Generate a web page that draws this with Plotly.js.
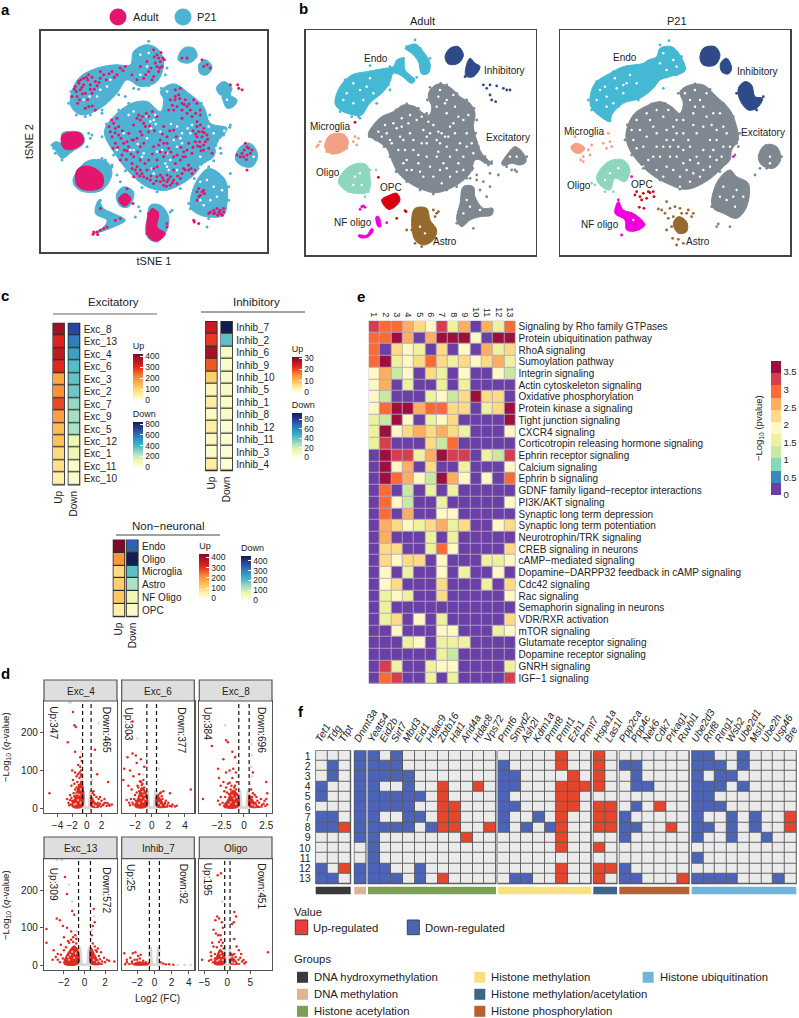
<!DOCTYPE html>
<html><head><meta charset="utf-8">
<script src="https://cdn.plot.ly/plotly-3.0.1.min.js"></script>
<style>html,body{margin:0;padding:0;background:#fff}#c{width:799px;height:1018px}</style></head>
<body><div id="c"></div>
<script>
// ---------- panel a (t-SNE) ----------
const aBlueShapes=[
[[210,295],[235,235],[290,205],[345,195],[390,195],[400,155],[440,135],[475,150],[490,190],[470,245],[420,260],[380,240],[350,280],[300,325],[245,345],[215,325]],
[[533,180],[550,145],[580,145],[590,170],[565,190]],
[[595,195],[615,180],[635,200],[620,225],[600,222]],
[[648,265],[670,245],[695,265],[690,285],[710,300],[700,320],[680,325],[665,295]],
[[312,395],[345,345],[395,310],[440,305],[480,335],[490,300],[480,275],[520,252],[565,280],[610,320],[630,370],[680,385],[650,430],[640,470],[610,490],[575,530],[500,570],[440,560],[390,520],[350,470]],
[[705,475],[720,440],[750,430],[772,465],[755,500],[720,495]],
[[570,600],[590,540],[625,505],[675,540],[680,610],[670,645],[620,650],[590,640],[572,625]],
[[155,435],[165,425],[190,430],[185,400],[245,400],[250,430],[215,455],[185,475],[165,450]],
[[218,540],[240,500],[270,480],[320,485],[335,520],[305,570],[250,575],[225,560]],
[[348,585],[370,560],[400,575],[385,620],[360,618]],
[[285,640],[295,600],[310,625],[340,640],[375,660],[340,680],[315,690],[280,700],[310,680],[320,660]],
[[440,660],[450,615],[480,615],[505,650],[495,700],[470,725],[445,715],[435,690]]];
const aPinkShapes=[
[[183,410],[195,400],[240,400],[250,425],[215,448],[190,445]],
[[230,510],[260,498],[305,522],[305,560],[260,570],[230,555]],
[[355,595],[375,580],[392,595],[375,618],[360,610]],
[[440,660],[455,625],[475,640],[470,680],[495,700],[470,722],[445,710]]];
const aPinkDots=[[225,260],[235,245],[250,235],[265,225],[240,270],[255,280],[230,290],[270,255],[285,245],[300,235],[310,225],[335,215],[360,205],[375,200],[265,320],[255,325],[285,330],[215,290],[250,255],[275,280],[470,165],[480,185],[485,200],[475,215],[460,150],[440,185],[420,200],[430,235],[395,225],[410,240],[455,240],[560,175],[545,175],[620,195],[630,205],[610,200],[605,180],[715,265],[725,270],[712,255],[690,255],
[340,370],[350,355],[330,395],[355,405],[370,430],[345,430],[365,465],[385,440],[400,420],[420,395],[430,370],[445,350],[470,350],[415,345],[400,375],[385,400],[430,430],[460,440],[480,420],[500,410],[520,390],[490,380],[505,330],[525,290],[540,265],[545,310],[560,320],[580,300],[600,330],[575,350],[545,355],[590,365],[605,395],[620,405],[590,410],[600,440],[565,430],[550,455],[530,465],[505,445],[490,470],[470,500],[445,480],[420,480],[395,505],[410,520],[430,530],[450,540],[470,530],[490,540],[510,530],[530,550],[545,520],[565,510],[575,520],[510,555],[490,555],[420,510],[410,500],[520,470],[555,470],[610,450],[625,445],[635,460],[470,480],[400,470],[520,510],[735,430],[745,445],[725,460],[710,465],[740,465],[755,450],[740,510],[595,565],[610,570],[600,585],[590,600],[640,630],[655,635],[670,625],[625,640],[580,660],[595,670],[280,695],[300,690],[320,680],[345,660],[360,655],[300,625],[290,695],[310,685],
[235,250],[245,262],[228,275],[262,240],[275,232],[290,258],[238,300],[262,300],[300,215],[318,240],[350,225],[465,190],[475,175],[488,175],[478,205],[460,230],[445,215],[345,385],[355,380],[335,410],[362,415],[352,442],[372,450],[360,480],[395,490],[405,510],[425,520],[440,535],[460,550],[480,545],[500,545],[520,540],[540,535],[555,510],[565,495],[500,525],[480,525],[590,380],[600,375],[610,385],[595,395],[605,410],[615,425],[585,425],[598,425],[610,435],[520,330],[530,320],[545,330],[560,340],[510,300],[525,270],[535,285],[555,300],[590,310],[600,345],[410,355],[420,360],[435,380],[445,395],[425,405],[410,415],[490,430],[475,435],[500,430],[480,455],[540,480],[525,490],[560,450],[575,460],[420,440],[395,420],[740,440],[732,450],[720,470],[730,470],[605,575],[590,575],[595,590],[650,625],[660,630],[630,635],[670,635],[660,640],[640,640],[582,665],[455,640],[445,640],[470,710],[480,710],[460,712],[500,670],
[242,240],[258,232],[222,268],[246,282],[270,268],[282,268],[232,310],[276,318],[296,248],[326,222],[342,232],[368,212],[482,158],[492,180],[470,200],[462,172],[452,205],[436,225],[334,360],[344,398],[326,380],[366,392],[338,445],[380,425],[392,462],[378,478],[400,530],[418,528],[452,528],[468,542],[486,532],[498,558],[516,548],[532,528],[550,505],[572,505],[584,510],[504,538],[460,505],[440,510],[434,490],[578,392],[586,402],[612,398],[622,418],[592,438],[602,452],[578,442],[524,300],[516,316],[552,314],[566,312],[538,296],[570,330],[586,340],[456,335],[438,340],[426,350],[448,378],[462,392],[486,402],[508,392],[528,410],[512,456],[542,442],[548,470],[496,458],[456,462],[412,456],[380,452],[750,460],[738,478],[612,580],[644,638],[666,645],[652,645],[278,702],[292,703],[362,600],[380,566],[398,610],[470,635],[500,680],[440,700]];
const aBlueDots=[[265,400],[270,415],[260,440],[275,405],[155,435],[185,480],[335,500],[350,525],[445,125],[360,545],[375,290],[385,310],[690,520],[415,620],[420,632],[510,635],[515,630],[620,680],[300,600],[405,650],[480,660],[490,670],[455,660],[270,530],[250,545],[285,550],[265,515],[245,520],[465,700],[455,690],[205,310],[212,275],[228,345],[255,350],[400,265],[415,268],[445,258],[495,225],[650,395],[670,405],[688,382],[660,445],[625,500],[685,560],[685,600],[565,610],[570,625],[625,655],[315,480],[335,495],[305,475],[165,460],[160,445],[185,470],[305,330],[270,345],[355,285],[500,205],[483,265],[305,340],[603,310],[628,345],[690,375],[662,460],[640,482],[582,535],[540,565],[470,575],[425,562],[375,512],[340,465],[305,410],[318,372],[355,330]];
const aHoles=[[440,350],[460,360],[465,345],[450,365],[440,415],[470,455],[485,450],[500,460],[510,480],[530,440],[545,430],[530,380],[545,400],[570,400],[400,450],[430,460],[460,520],[370,400],[350,450],[520,420],[495,490],[500,500],[250,300],[290,290],[320,260],[440,200],[420,225],[600,600],[640,560],[620,540],[700,470],[600,470],[640,400],[660,420],[625,380],[575,375],[480,310],[500,275],[385,345],[400,335],[452,385],[466,372],[480,395],[412,432],[425,470],[540,415],[512,372],[562,385],[390,450],[455,505],[505,510],[530,510],[600,500],[648,445],[672,392],[268,290],[300,270],[330,240],[420,165],[445,160],[660,290],[680,300],[610,615],[650,590],[665,570],[630,600],[600,545],[760,470]];
const bAdult={
 Endo:[[[135,310],[150,260],[185,225],[230,215],[285,205],[310,200],[320,180],[340,175],[345,210],[375,240],[365,250],[330,225],[310,220],[300,245],[280,275],[250,300],[235,315],[215,345],[190,345],[150,330]],[[345,145],[375,132],[400,155],[420,190],[415,220],[395,222],[385,185],[365,160]]],
 Inhibitory:[[[465,170],[480,145],[505,140],[520,165],[505,190],[475,192]],[[527,205],[540,175],[555,190],[570,200],[550,230],[528,228]]],
 Excitatory:[[[235,405],[250,375],[275,350],[310,335],[340,315],[375,320],[400,340],[418,345],[425,320],[415,295],[420,270],[445,252],[480,262],[510,290],[540,310],[555,340],[550,380],[560,420],[575,460],[600,485],[608,492],[585,490],[570,480],[555,480],[540,520],[500,555],[440,578],[400,570],[360,550],[325,520],[305,480],[290,445],[265,425]],[[635,490],[650,465],[675,440],[700,460],[708,485],[690,495],[665,490],[640,497]],[[500,660],[510,610],[520,560],[550,560],[555,590],[580,625],[608,625],[605,645],[570,650],[540,660],[515,680]]],
 Microglia:[[[105,430],[120,405],[160,402],[175,425],[165,450],[125,462],[105,445]]],
 Oligo:[[[145,545],[170,505],[205,490],[230,495],[240,530],[235,575],[195,580],[165,570]]],
 OPC:[[[275,600],[300,585],[320,580],[330,600],[315,620],[295,628]]],
 NFoligo:[[[205,705],[230,705],[245,685],[250,692],[232,712],[208,712]],[[258,650],[266,650],[272,680],[264,680]]],
 Astro:[[[365,660],[375,625],[410,625],[420,660],[440,690],[430,720],[400,735],[375,720]]]};
const bAdultDots={
 Endo:[[375,120],[300,200],[340,175],[320,190],[210,355],[300,270],[260,310],[240,197],[330,180],[350,140],[390,145],[420,175],[140,300],[145,275],[165,240],[360,245],[380,232],[295,255],[205,350],[185,350],[150,335]],
 Inhibitory:[[525,230],[580,255],[600,255],[620,258],[640,265],[650,270],[660,270],[600,285],[605,300],[617,305],[590,265]],
 Excitatory:[[545,510],[560,525],[580,545],[600,560],[590,590],[560,540],[600,520],[570,570],[540,535],[625,525],[680,515],[665,510],[550,685],[240,400],[248,385],[262,368],[285,352],[318,330],[350,312],[385,325],[410,340],[412,300],[420,262],[452,250],[470,255],[500,280],[530,300],[552,325],[560,360],[557,400],[565,440],[585,470],[605,485],[595,495],[548,505],[530,535],[500,560],[470,570],[430,582],[390,570],[350,545],[318,515],[300,470],[282,440],[258,420],[238,410],[710,470],[650,500],[675,510],[525,620],[500,670],[515,675]],
 Microglia:[[80,440],[90,425],[85,435],[195,410],[205,415],[190,425],[200,435],[110,455],[170,445]],
 Oligo:[[225,590],[258,510],[235,575],[150,550],[175,575],[240,510]],
 OPC:[[265,532],[348,635],[320,655],[195,367],[345,632]],
 NFoligo:[[210,628],[220,618],[215,620],[225,622],[290,668],[270,675],[262,660]],
 Astro:[[430,630],[440,640],[435,650],[350,690],[445,635],[425,675],[375,730],[395,740],[365,690]]};
const bP21={
 Endo:[[[900,295],[915,250],[960,220],[1000,200],[1060,190],[1075,180],[1100,170],[1110,145],[1145,140],[1170,165],[1185,212],[1140,230],[1110,240],[1090,265],[1050,295],[1000,310],[965,345],[960,365],[925,345],[905,325]]],
 Inhibitory:[[[1230,175],[1240,145],[1275,140],[1290,165],[1275,195],[1240,195]],[[1292,190],[1310,175],[1325,205],[1315,222],[1295,215]],[[1345,265],[1365,245],[1385,255],[1395,290],[1418,295],[1400,325],[1375,330],[1350,300]]],
 Excitatory:[[[1008,400],[1030,345],[1065,320],[1110,305],[1145,320],[1170,340],[1180,310],[1170,275],[1200,255],[1240,255],[1280,290],[1320,330],[1340,380],[1345,420],[1325,450],[1320,480],[1300,500],[1255,540],[1190,568],[1130,550],[1080,520],[1040,480],[1015,440]],[[1405,470],[1425,435],[1460,440],[1472,480],[1450,505],[1415,495]],[[1265,600],[1285,540],[1320,510],[1340,530],[1375,550],[1370,620],[1340,655],[1300,640],[1270,625]]],
 Microglia:[[[843,440],[860,430],[885,445],[870,460],[850,455]]],
 Oligo:[[[920,530],[955,485],[1000,480],[1020,510],[1005,545],[975,535],[960,570],[930,555]]],
 OPC:[],
 NFoligo:[[[975,640],[985,605],[1000,630],[1030,640],[1060,665],[1065,675],[1040,692],[1010,690],[1005,660]]],
 Astro:[[[1150,670],[1165,650],[1190,665],[1190,695],[1165,700]]]};
const bP21Dots={
 Endo:[[1137,122],[1120,265],[960,362],[1045,300],[1060,240],[905,330],[895,300],[920,245],[1175,170],[1185,205],[1110,135],[1160,225],[1095,180],[970,215],[985,320]],
 Inhibitory:[[1400,330],[1420,290],[1340,280]],
 Excitatory:[[1285,672],[1280,680],[1395,525],[1320,680],[1340,430],[1345,440],[1005,420],[1012,375],[1045,335],[1085,312],[1125,310],[1165,280],[1215,252],[1260,268],[1300,310],[1330,350],[1350,400],[1335,465],[1290,515],[1230,550],[1170,568],[1110,540],[1060,505],[1025,465],[1475,470],[1410,505],[1430,505],[1375,580],[1265,620]],
 Microglia:[[880,485],[905,435],[940,430],[955,400],[965,440],[900,465],[895,450],[880,470],[960,425],[950,445],[855,410],[872,480]],
 Oligo:[[970,575],[945,575],[915,555],[905,550]],
 OPC:[[1040,575],[1050,590],[1060,580],[1070,595],[1080,578],[1090,575],[1092,590],[1055,600],[1048,622],[1062,625],[1035,585],[1075,575]],
 NFoligo:[[985,600],[985,610],[995,705],[1330,470],[1025,530]],
 Astro:[[1105,627],[1130,605],[1140,625],[1155,620],[1170,625],[1125,640],[1135,655],[1150,650],[1190,640],[1210,640],[1205,650],[1195,630],[1130,690],[1145,680],[1165,718],[1160,735],[1180,730],[1148,715],[1175,640],[1115,630]]};
const adultHoles=[[440,420],[450,430],[430,375],[420,400],[400,390],[410,430],[395,430],[470,440],[460,490],[480,470],[470,505],[450,510],[360,400],[340,420],[325,450],[370,450],[350,480],[385,490],[410,470],[500,450],[495,400],[480,380],[470,340],[465,310],[495,320],[520,360],[530,400],[530,440],[505,490],[320,385],[290,400],[275,410],[440,470],[430,530],[400,530],[170,280],[190,310],[210,270],[230,260],[250,280],[190,250],[220,300],[160,300],[240,235],[455,400],[465,410],[445,395],
[380,360],[355,370],[335,380],[310,370],[300,420],[330,410],[345,450],[365,510],[390,515],[420,500],[445,455],[475,410],[490,370],[505,350],[470,300],[445,290],[440,320],[510,430],[520,470],[480,530],[455,550],[350,510],[340,490],[305,430],[265,395],[395,350],[415,365],[370,420],[385,465],[500,515],[520,510],[535,345],[450,270],[490,285],[545,430],[550,460],[335,355],[360,345],[285,375],[410,410],[530,600],[540,620],[570,630],[520,640],[660,470],[680,470],[195,530],[190,555],[210,520],[215,555],[390,680],[405,700]];
const p21Holes=[[1100,400],[1120,440],[1150,420],[1180,400],[1200,440],[1220,400],[1240,450],[1260,420],[1280,390],[1250,350],[1210,340],[1200,300],[1230,300],[1270,340],[1300,380],[1300,440],[1280,480],[1240,510],[1200,480],[1160,470],[1130,500],[1090,470],[1060,440],[1050,390],[1080,360],[1120,350],[1150,380],[1180,450],[1210,520],[1170,530],[1100,510],[1030,420],[1260,470],[1220,470],[1140,470],[1180,360],[950,290],[980,265],[1010,250],[1000,280],[950,320],[1040,250],[1110,190],[1130,210],[1150,180],[930,270],[970,310],[1330,590],[1310,600],[1340,570],[1440,470],[1300,560],
[1025,390],[1040,360],[1070,340],[1100,330],[1135,330],[1160,360],[1130,390],[1090,380],[1070,410],[1040,445],[1075,480],[1110,470],[1100,440],[1130,420],[1165,440],[1195,420],[1210,375],[1240,380],[1265,375],[1290,340],[1310,400],[1320,440],[1295,470],[1260,500],[1225,490],[1190,510],[1150,510],[1120,530],[1170,560],[1200,545],[1230,530],[1185,280],[1215,270],[1250,280],[1240,320],[1215,320],[1180,490],[1060,500],[1140,440],[1280,420],[1270,450],[1160,400],[975,235],[1020,225],[920,300],[945,260],[1000,255],[1120,160],[1160,200],[960,520],[985,505],[945,540],[1030,660],[1335,620],[1360,590],[1290,590],[1440,490]];
const clusterNames=['Endo','Inhibitory','Excitatory','Microglia','Oligo','OPC','NFoligo','Astro'];
const clusterColours={Endo:'#45B8D4',Inhibitory:'#2F4A88',Excitatory:'#7F8890',Microglia:'#F3A184',Oligo:'#8ED7BE',OPC:'#D8000F',NFoligo:'#F000DC',Astro:'#96692F'};
// ---------- panel c ----------
const excNames=['Exc_8','Exc_13','Exc_4','Exc_6','Exc_3','Exc_2','Exc_7','Exc_9','Exc_5','Exc_12','Exc_1','Exc_11','Exc_10'];
const excUp=[384,309,347,303,170,200,270,180,140,130,90,80,50];
const excDown=[696,572,465,377,360,340,280,260,250,130,120,40,30];
const inhNames=['Inhib_7','Inhib_2','Inhib_6','Inhib_9','Inhib_10','Inhib_5','Inhib_1','Inhib_8','Inhib_12','Inhib_11','Inhib_3','Inhib_4'];
const inhUp=[25,21,28,19,8,2,4,1.5,4,2,1,4];
const inhDown=[92,40,7,6,6,7,6,6,3,3,3,2];
const nonNames=['Endo','Oligo','Microglia','Astro','NF Oligo','OPC'];
const nonUp=[430,195,90,110,120,50];
const nonDown=[340,451,200,130,60,30];
// ---------- panel d ----------
const volcano=[
{name:'Exc_4',up:'Up:347',down:'Down:465',xr:[-5.84,4.11],xt:[-4,-2,0,2],
 left:[[-2,4],[-1.5,35],[-1.1,60],[-0.7,70],[-0.62,4]],right:[[0.62,4],[0.62,32],[1.1,16],[1.7,4]],
 pts:[[-1.9,255],[-1.7,220],[-1.5,215],[-2.6,175],[-1.6,150],[-0.9,135],[-0.7,125],[-1.2,115],[-0.9,110],[-2,100],[-1.6,95],[-1.2,90],[-0.8,100],[-2.1,60],[-1.9,75],[-1.7,65],[-1.4,85],[-1,80],[-1.3,70],[-0.8,70],[-2.7,25],[-2.5,15],[-2.3,35],[-2.2,10],[-2,20],[-1.8,40],[-1.6,50],[-1.5,30],[-5.1,40],[1.1,155],[2.9,70],[1.4,90],[0.8,40],[1,35],[1.3,30],[1.6,25],[2,20],[2.5,15],[3,10],[3.4,10],[2.2,8],[1.8,12],[1.5,15],[2.4,25],[2.7,6],[-1.1,62],[-1.2,50],[-1.4,42],[-1.7,32],[-1.9,16],[-2.4,8],[-1,47],[-0.75,90],[-1,95],[-0.8,85],[-1.4,55],[-2.1,28],[-2.3,22],[1.9,5],[2.3,12],[2.8,14],[1.2,12],[1.6,8],[3.1,7],[0.9,45],[1.8,30]],
 specks:[[-1.2,22],[-1,36],[-1.5,12],[-0.85,15],[-1.3,38],[-0.8,50],[-1.7,10],[0.9,9],[1.2,6]],pale:[[1.6,225],[-0.7,185],[-0.75,150],[0.7,100],[-0.65,75],[0.65,60],[0.7,75],[-2.4,280],[-2.2,280]]},
{name:'Exc_6',up:'Up:303',down:'Down:377',xr:[-3.6,5.12],xt:[-2,0,2,4],
 left:[[-2,4],[-1.6,30],[-1.2,55],[-0.65,42],[-0.62,4]],right:[[0.62,4],[0.62,35],[1.05,26],[1.6,6],[2,4]],
 pts:[[-3.4,75],[-3.3,105],[-2.9,135],[-2.3,145],[-1.9,140],[-2.6,100],[-1.8,120],[-1.3,130],[-2.2,85],[-1.5,90],[-0.9,110],[-2.8,60],[-2.4,50],[-2,35],[-2.5,25],[-2.7,15],[-1.7,60],[-1.3,70],[-1.1,65],[-0.9,55],[-1.5,45],[-1.9,20],[-2.2,10],[-2.3,230],[-2.9,195],[4.7,50],[2.2,40],[1.4,45],[0.8,35],[1,40],[1.3,25],[1.7,20],[2,15],[2.5,10],[3,7],[1.5,10],[2.2,6],[2.8,5],[-1.4,72],[-1.6,55],[-1.8,42],[-2.1,25],[-2.3,15],[-1.2,62],[-2.6,8],[-3,22],[-1,75],[1.2,32],[1.6,14],[1.9,9],[2.4,5],[1.1,42]],
 specks:[[-1.3,28],[-1,18],[-0.9,36],[-1.5,14],[-1.1,44],[-0.75,25],[0.85,14],[1.1,8]],pale:[[-0.7,110],[-0.6,130],[0.7,160],[0.9,105],[0.7,120],[-1.7,185],[-1,90],[0.75,75],[-0.7,65]]},
{name:'Exc_8',up:'Up:384',down:'Down:696',xr:[-5,3.14],xt:[-2.5,0,2.5],
 left:[[-2.3,4],[-1.8,24],[-1.3,48],[-0.7,38],[-0.62,4]],right:[[0.62,4],[0.62,36],[1.05,20],[1.7,5],[2.1,4]],
 pts:[[-3.6,165],[-2,180],[-1.8,175],[-1.3,150],[-1,135],[-2.3,130],[-2.9,105],[-4.6,25],[-2.8,80],[-2.6,60],[-2.3,70],[-2,95],[-1.6,100],[-1.2,105],[-1.3,80],[-0.9,95],[-1,60],[-1.8,65],[-2.2,45],[-2.6,30],[-2.9,20],[-2.4,15],[-2,55],[-1.5,50],[-0.8,70],[-1.2,40],[2.5,70],[1,95],[0.8,50],[1,40],[1.4,30],[1.9,25],[2.3,20],[2.6,10],[2.2,12],[1.7,15],[2.5,25],[1.2,35],[2.6,40],[-1.6,68],[-1.1,55],[-1.9,42],[-1.4,60],[-2.1,30],[-2.7,10],[-1.7,38],[-0.9,50],[1.3,14],[1.5,20],[2,9],[2.4,6],[0.9,30]],
 specks:[[-1.5,16],[-1.1,26],[-0.9,12],[-1.7,10],[-1.3,34],[-0.8,30],[0.9,10],[1.2,7]],pale:[[-2.1,220],[-0.9,140],[-0.75,120],[0.8,170],[0.9,140],[0.85,110],[0.9,85],[-0.7,85],[0.7,65]]},
{name:'Exc_13',up:'Up:309',down:'Down:572',xr:[-3.94,3.16],xt:[-2,0,2],
 left:[[-2,4],[-1.5,38],[-1,52],[-0.65,42],[-0.62,4]],right:[[0.62,4],[0.62,48],[1.05,26],[1.5,6],[1.8,4]],
 pts:[[-3.7,97],[-3.7,60],[-2.7,125],[-2.4,120],[-1.9,235],[-1.7,190],[-1.2,145],[-2.1,105],[-1.7,100],[-1,135],[-1.3,90],[-0.9,80],[-3,40],[-2.6,30],[-2.3,55],[-2,75],[-2,40],[-2.6,15],[-3.1,15],[-1.6,65],[-1.1,75],[-0.8,70],[0.9,150],[1,115],[0.8,105],[0.7,80],[1.3,45],[1.6,35],[1.9,20],[2.2,15],[2.4,12],[2.9,10],[1.7,10],[1.4,25],[1,50],[2,8],[-1.3,68],[-1.5,60],[-1.8,48],[-2.3,28],[-2.1,18],[-2.4,8],[-1.1,62],[-0.8,58],[1.2,36],[1.5,16],[0.8,58],[1.1,40],[-2.8,22]],
 specks:[[-1.4,28],[-1.6,22],[-1.2,36],[-1.5,15],[-1,20],[-0.85,32],[0.9,14],[1.2,9]],pale:[[-1.5,215],[-1.2,170],[-0.75,90],[-0.7,75],[0.9,130],[0.75,95],[0.7,70],[-2.7,280],[-2.2,280]]},
{name:'Inhib_7',up:'Up:25',down:'Down:92',xr:[-3.8,4.63],xt:[-2,0,2,4],
 left:[[-2.5,2],[-2,9],[-1.3,8],[-0.7,2]],right:[],
 pts:[[-3.5,32],[-2.5,32],[-2.2,35],[-1.9,25],[-1.6,28],[-3.2,8],[-3.2,15],[-2.8,20],[-2.6,10],[-2.3,15],[-2,15],[-1.7,18],[-1.3,12],[-1,8],[-0.7,5],[-3.4,3],[0.7,8],[1,5],[1.3,3],[1.7,3],[2.2,2],[-2.9,4],[-2.6,6]],
 specks:[],pale:[[3.5,1],[4.2,1],[2.7,1],[1.9,2],[1.4,1],[-0.62,6],[0.62,5],[-0.5,2],[0.5,2],[-3,2]]},
{name:'Oligo',up:'Up:195',down:'Down:451',xr:[-6.1,9.7],xt:[-5,0,5],
 left:[[-2.9,4],[-2.4,22],[-1.6,42],[-0.75,30],[-0.62,4]],right:[[0.62,4],[0.62,18],[1.3,20],[2.2,6],[2.8,4]],
 pts:[[-5.5,15],[-2.6,120],[-2.2,130],[-1.8,125],[-2.1,240],[-1.4,245],[-1.2,115],[-1,100],[-3,95],[-2.5,85],[-2,80],[-1.5,80],[-3.3,60],[-3,50],[-3.6,35],[-2.7,30],[-4,12],[-3.5,15],[-1,60],[-0.8,45],[1.5,142],[1.9,130],[1,110],[1.4,115],[1.5,70],[2,50],[2.5,40],[3.2,10],[3,30],[2.4,15],[1.5,30],[0.9,30],[8.8,35],[4,8],[3.7,5],[2.8,20],[-1.8,62],[-2.3,48],[-1.3,52],[-2.7,18],[-3.1,8],[1.8,22],[1.1,26],[3.5,14],[-3.5,25],[-1.4,68]],
 specks:[[-1.8,15],[-1.3,25],[-2.2,12],[-1.5,32],[-1,14],[1,8],[1.5,6]],pale:[[-1.1,170],[1.3,70],[-0.8,30],[0.8,25],[-0.7,45],[0.7,35]]}];
const foldCut=0.58;
const notSig=[[-0.62,0],[-0.62,48],[-0.36,48],[-0.22,4],[0.22,4],[0.36,48],[0.62,48],[0.62,0]];
// ---------- panel e ----------
const pathways=['Signaling by Rho family GTPases','Protein ubiquitination pathway','RhoA signaling','Sumoylation pathway','Integrin signaling','Actin cytoskeleton signaling','Oxidative phosphorylation','Protein kinase a signaling','Tight junction signaling','CXCR4 signaling','Corticotropin releasing hormone signaling','Ephrin receptor signaling','Calcium signaling','Ephrin b signaling','GDNF family ligand\u2212receptor interactions','PI3K/AKT signaling','Synaptic long term depression','Synaptic long term potentiation','Neurotrophin/TRK signaling','CREB signaling in neurons','cAMP\u2212mediated signaling','Dopamine\u2212DARPP32 feedback in cAMP signaling','Cdc42 signaling','Rac signaling','Semaphorin signaling in neurons','VDR/RXR activation','mTOR signaling','Glutamate receptor signaling','Dopamine receptor signaling','GNRH signaling','IGF\u22121 signaling'];
const clusterIds=['1','2','3','4','5','6','7','8','9','10','11','12','13'];
const pBand=[
[9,8,8,7,6,5,9,4,7,0,7,4,8],[8,8,10,7,0,7,10,10,10,5,0,10,10],[8,0,6,5,4,0,6,0,5,0,7,4,6],[8,10,4,5,6,8,6,4,6,5,6,7,4],[5,7,3,5,0,6,4,0,5,0,0,5,3],[5,7,0,4,0,0,4,0,4,0,0,0,0],[5,3,0,0,0,4,5,3,6,10,6,6,0],[5,8,10,10,7,8,8,6,6,0,4,6,10],[4,3,10,5,0,4,5,6,0,0,0,0,10],[4,10,5,6,7,6,7,6,4,0,0,0,5],[4,9,0,0,0,6,3,8,0,0,0,0,0],[0,10,9,9,4,7,10,9,9,0,4,3,9],[0,10,5,7,0,6,0,0,4,0,0,0,5],[0,10,8,7,5,3,10,7,5,0,5,0,8],[0,8,0,3,0,4,0,4,0,0,0,0,0],[0,8,5,3,0,0,4,0,0,0,0,0,5],[0,8,0,7,0,0,5,5,0,0,0,0,0],[0,7,6,5,4,6,7,4,6,0,0,5,6],[0,7,0,0,0,4,0,4,0,0,0,0,0],[0,6,6,0,0,4,8,5,0,0,0,0,6],[0,6,5,6,6,0,5,0,0,0,4,4,5],[0,5,0,4,0,0,5,0,4,0,0,5,0],[0,5,6,0,0,0,6,0,0,0,4,0,6],[0,4,5,4,0,0,6,0,0,0,0,0,5],[0,4,0,0,0,0,0,0,0,0,0,0,0],[0,4,6,0,5,0,4,0,0,0,0,0,6],[0,0,5,0,0,0,5,5,0,0,0,4,5],[0,0,0,4,5,0,4,4,4,0,0,0,0],[0,0,0,0,0,0,4,3,0,0,0,0,0],[0,9,4,0,0,4,5,5,0,0,0,0,4],[0,8,9,0,0,4,0,4,0,0,0,0,9]];
const spectral=['#6A3FA6','#3F86BC','#86D8BC','#C9E8A0','#EEF29E','#FFF8C4','#FDDB86','#FDAE61','#F96A35','#D53E4F','#9E0F40'];
const bandWidth=0.347;
// ---------- panel f ----------
const geneGroups=[
{label:'DNA hydroxymethylation',colour:'#3A3A3C',genes:['Tet1','Tdg','Tfpt'],calls:[[0,0,0,1,1,0,1,1,0,0,0,1,1],[0,1,1,0,0,0,1,1,0,0,0,0,1],[0,0,0,0,0,0,0,2,0,0,0,2,0]]},
{label:'DNA methylation',colour:'#DDB595',genes:['Dnmt3a'],calls:[[1,1,1,1,1,1,1,1,1,0,0,1,1]]},
{label:'Histone acetylation',colour:'#7C9F55',genes:['Yeats4','Eid2b','Sirt7','Mbd3','Eid1','Hdac9','Zbtb16','Hat1','Arid4a','Hdac8','Vps72'],calls:[[1,1,1,1,1,1,1,1,1,1,1,1,1],[0,1,1,0,1,1,0,1,0,0,0,1,1],[1,1,1,0,1,1,0,1,0,0,0,0,1],[0,0,1,1,1,1,1,1,0,0,0,0,0],[0,0,0,0,1,0,1,0,0,0,0,1,1],[0,0,0,0,0,0,0,1,0,0,0,0,0],[0,0,0,2,2,2,2,2,0,0,0,0,2],[0,0,0,0,0,2,2,2,0,0,0,0,0],[0,0,0,0,0,0,0,0,2,0,0,0,0],[0,0,0,2,0,0,0,0,0,0,0,0,0],[0,0,0,0,0,0,0,2,0,0,0,0,0]]},
{label:'Histone methylation',colour:'#F5E27F',genes:['Prmt6','Smyd2','Ash2l','Kdm1a','Prmt8','Prmt1','Ezh1','Prmt7'],calls:[[0,1,1,1,1,1,1,1,0,0,0,0,0],[0,0,1,1,0,1,0,0,0,0,0,0,1],[0,0,0,0,0,0,0,1,0,0,0,0,1],[0,0,0,0,0,0,1,0,0,0,0,0,0],[0,0,0,0,0,0,0,1,0,0,0,0,0],[2,2,0,2,2,2,2,2,2,2,0,2,2],[0,0,2,2,2,2,0,0,0,0,0,0,0],[0,0,0,2,0,0,0,0,0,0,0,0,0]]},
{label:'Histone methylation/acetylation',colour:'#3E6587',genes:['Hspa1a','Las1l'],calls:[[2,2,2,2,0,2,2,2,0,2,0,2,2],[0,0,0,0,0,2,2,2,0,0,0,2,0]]},
{label:'Histone phosphorylation',colour:'#B8602F',genes:['Ppp2ca','Ppp4c','Nek6','Cdk7','Prkag1','Ruvbl1'],calls:[[0,1,0,0,0,0,1,1,1,0,0,1,1],[0,1,1,1,0,1,0,1,0,0,0,0,1],[0,0,0,1,0,0,0,0,0,0,0,0,0],[0,0,0,0,0,2,0,0,0,0,0,0,0],[0,0,0,0,0,0,0,2,0,0,0,0,0],[0,0,0,0,0,0,0,0,0,0,0,0,2]]},
{label:'Histone ubiquitination',colour:'#72B5DC',genes:['Ube2d3','Rnf8','Ring1','Wsb2','Ube2d1','Msl1','Ube2h','Usp46','Bre'],calls:[[1,1,1,1,1,1,1,1,1,0,1,0,1],[1,1,0,1,1,1,0,1,0,0,0,0,1],[0,1,1,1,0,1,0,0,0,0,0,0,1],[0,0,1,0,0,0,1,1,1,0,0,0,1],[1,1,0,1,0,0,0,0,0,0,0,0,0],[0,0,0,0,0,0,1,1,0,0,0,0,0],[0,0,0,0,0,0,0,0,1,0,0,0,0],[0,0,0,0,0,0,0,0,0,0,0,0,1],[0,0,0,0,0,0,2,2,0,0,0,0,0]]}];
const rowIds=['1','2','3','4','5','6','7','8','9','10','11','12','13'];

// ---------- layout machinery ----------
const W=799,H=1018,FONT='"Liberation Sans",Arial,sans-serif',INK='#222';
const traces=[],shapes=[],annotations=[];
const layout={width:W,height:H,margin:{l:0,r:0,t:0,b:0},autosize:false,paper_bgcolor:'#fff',plot_bgcolor:'rgba(0,0,0,0)',showlegend:false,font:{family:FONT,size:10,color:INK},shapes,annotations};
let axisN=0;
const fx=p=>p/W, fy=p=>1-p/H;
function axes(x0,x1,y0,y1,xo,yo){
  axisN++;const s=axisN===1?'':axisN;
  layout['xaxis'+s]=Object.assign({domain:[fx(x0),fx(x1)],anchor:'y'+s,showgrid:false,zeroline:false,automargin:false,ticks:'',showticklabels:false,fixedrange:true},xo);
  layout['yaxis'+s]=Object.assign({domain:[fy(y1),fy(y0)],anchor:'x'+s,showgrid:false,zeroline:false,automargin:false,ticks:'',showticklabels:false,fixedrange:true},yo);
  return {xaxis:'x'+s,yaxis:'y'+s};
}
function note(x,y,text,o={}){annotations.push({xref:'paper',yref:'paper',x:fx(x),y:fy(y),text,showarrow:false,xanchor:o.a||'left',yanchor:'middle',textangle:o.angle||0,font:{size:o.size||10,color:o.color||INK,family:FONT},borderpad:0,borderwidth:0});}
function box(x0,y0,x1,y1,fill,line,lw,layer){shapes.push({type:'rect',xref:'paper',yref:'paper',x0:fx(x0),x1:fx(x1),y0:fy(y0),y1:fy(y1),fillcolor:fill,line:{color:line||fill,width:line?(lw||1):0},layer:layer||'above'});}
function rule(x0,x1,y,col,w){shapes.push({type:'line',xref:'paper',yref:'paper',x0:fx(x0),x1:fx(x1),y0:fy(y),y1:fy(y),line:{color:col,width:w}});}
const polys=list=>{const x=[],y=[];list.forEach(p=>{p.forEach(q=>{x.push(q[0]);y.push(q[1]);});x.push(p[0][0]);y.push(p[0][1]);x.push(null);y.push(null);});return{x,y};};
function blob(ref,list,col,straight){if(!list.length)return;const p=polys(list);traces.push(Object.assign({type:'scatter',mode:'lines',x:p.x,y:p.y,fill:'toself',fillcolor:col,line:{color:col,width:1,shape:straight?'linear':'spline',smoothing:1},hoverinfo:'skip'},ref));}
function dots(ref,list,col,size){if(!list.length)return;traces.push(Object.assign({type:'scatter',mode:'markers',x:list.map(p=>p[0]),y:list.map(p=>p[1]),marker:{color:col,size:size||3},hoverinfo:'skip'},ref));}
const frame={showline:true,mirror:true,linecolor:'#444',linewidth:1.6};

// panel letters
[['a',1,9],['b',299,8],['c',1,295],['d',1,673],['e',357,296],['f',298,711]].forEach(l=>note(l[1],l[2],'<b>'+l[0]+'</b>',{size:15,color:'#000'}));

// ---------- a ----------
const ADULT='#E5146C',P21='#4FB2D3';
{const r=axes(41,267,31,252,Object.assign({range:[122,800],title:{text:'tSNE 1',font:{size:11},standoff:4}},frame),Object.assign({range:[755,94],title:{text:'tSNE 2',font:{size:11},standoff:3}},frame));
 blob(r,aBlueShapes,P21);dots(r,aBlueDots,P21,3);dots(r,aHoles,'#fff',2.5);blob(r,aPinkShapes,ADULT);dots(r,aPinkDots,ADULT,3);
 [[118,ADULT],[183,P21]].forEach(c=>shapes.push({type:'circle',xref:'paper',yref:'paper',x0:fx(c[0]-8.5),x1:fx(c[0]+8.5),y0:fy(25.5),y1:fy(8.5),fillcolor:c[1],line:{width:0}}));
 note(133,17,'Adult',{size:11.2});note(197,17,'P21',{size:11});
}
// ---------- b ----------
function tsne(x0,x1,xr,yr,shapesBy,dotsBy,holes,labels,title){
 const r=axes(x0,x1,30.3,255,Object.assign({range:xr},frame),Object.assign({range:yr},frame));
 clusterNames.forEach(n=>{blob(r,shapesBy[n],clusterColours[n]);});
 dots(r,holes,'#fff',2.4);
 clusterNames.forEach(n=>dots(r,dotsBy[n],clusterColours[n],2.8));
 labels.forEach(l=>annotations.push({xref:r.xaxis,yref:r.yaxis,x:l[1],y:l[2],text:l[0],showarrow:false,xanchor:'center',yanchor:'middle',font:{size:10,color:INK,family:FONT}}));
 note((x0+x1)/2+2,20.5,title,{a:'center',size:11});
}
tsne(305.7,535.7,[47,737],[765,91],bAdult,bAdultDots,adultHoles,[['Endo',258,177],['Inhibitory',642,211],['Microglia',120,381],['Excitatory',653,414],['Oligo',113,519],['OPC',302,564],['NF oligo',188,667],['Astro',465,725]],'Adult');
tsne(560.3,790.3,[811,1501],[765,91],bP21,bP21Dots,p21Holes,[['Endo',1006,173],['Inhibitory',1402,214],['Microglia',882,395],['Excitatory',1420,398],['Oligo',868,556],['OPC',1057,555],['NF oligo',929,674],['Astro',1223,725]],'P21');
// ---------- c ----------
const hotScale=[[0,'#FFFFD6'],[0.12,'#FFF0A8'],[0.3,'#FEC45C'],[0.5,'#FB8A35'],[0.72,'#E2261C'],[1,'#7E0A2A']];
const coolScale=[[0,'#FFFFD9'],[0.15,'#EDF8B1'],[0.3,'#A9E0C4'],[0.48,'#45B5C6'],[0.68,'#2C7FB8'],[0.85,'#2B3E9C'],[1,'#141D52']];
function cbar(x,y0,y1,vals,title){const c={x:fx(x),xanchor:'left',xpad:0,ypad:0,y:fy(y1),yanchor:'bottom',len:y1-y0,lenmode:'pixels',thickness:10,thicknessmode:'pixels',outlinewidth:0,ticks:'inside',ticklen:3,tickwidth:1,tickcolor:'#fff',tickvals:vals,tickfont:{size:8.5,color:INK,family:FONT},borderwidth:0,bgcolor:'rgba(0,0,0,0)'};if(title)c.title={text:title,side:'top',font:{size:9,color:INK,family:FONT}};return c;}
function strip(x0,x1,y0,y1,name,names,vals,scale,zmax,bar,labelled){
 box(x0-0.6,y0-0.6,x1+0.6,y1+0.6,'#2E2E2E',null,0,'below');
 const r=axes(x0,x1,y0,y1,{type:'category',side:'bottom',showticklabels:true,tickangle:-90,tickfont:{size:10},ticklen:0,ticklabelstandoff:3},{type:'category',autorange:'reversed',side:'right',showticklabels:!!labelled,tickmode:'array',tickvals:names,ticktext:names,tickfont:{size:10},ticklabelstandoff:3});
 traces.push(Object.assign({type:'heatmap',x:[name],y:names,z:vals.map(v=>[v]),zmin:0,zmax,colorscale:scale,xgap:0,ygap:1.2,showscale:true,colorbar:bar,hoverinfo:'skip'},r));
}
const barHead=13;
strip(53,64.3,323.3,485,'Up',excNames,excUp,hotScale,420,cbar(132.7,352-barHead,400,[0,100,200,300,400],'Up'));
strip(68.3,79.7,323.3,485,'Down',excNames,excDown,coolScale,840,cbar(132.7,420-barHead,467,[0,200,400,600,800],'Down'),true);
strip(205.7,217,321.7,470.7,'Up',inhNames,inhUp,hotScale,31,cbar(291.7,355-barHead,392,[0,10,20,30],'Up'));
strip(221,232.3,321.7,470.7,'Down',inhNames,inhDown,coolScale,92,cbar(291.7,411.7-barHead,457.3,[0,20,40,60,80],'Down'),true);
strip(113.3,124.7,540,616.7,'Up',nonNames,nonUp,hotScale,430,cbar(199.3,552.3-barHead,598.3,[0,100,200,300,400],'Up'));
strip(126.7,138,540,616.7,'Down',nonNames,nonDown,coolScale,451,cbar(241,554-barHead,600,[0,100,200,300,400],'Down'),true);
[['Excitatory',113,302,53,157,314,'#999',1.4],['Inhibitory',256,302,201,305,312,'#444',1],['Non\u2212neuronal',168,526,116,220,535,'#444',1]].forEach(t=>{note(t[1],t[2],t[0],{a:'center',size:11.5});rule(t[3],t[4],t[5],t[6],t[7]);});
// ---------- d ----------
const rowsD=[[701,813,680,701],[858.7,970,837,858.7]];
const colsD=[[44,117],[121.7,194.3],[199.3,272]];
const upNotes=[[53.3,722.5],[128.3,723.8],[207.7,723.8],[54.3,884],[131,878],[208.3,879]];
const downNotes=[[106.7,729.5],[181.7,730],[262,730],[106.7,890],[184.3,884],[261.7,886]];
volcano.forEach((v,i)=>{
 const R=rowsD[Math.floor(i/3)],C=colsD[i%3],first=i%3===0;
 const r=axes(C[0],C[1],R[0],R[1],{range:v.xr,showline:true,mirror:true,linecolor:'#555',linewidth:1.2,ticks:'outside',ticklen:3,tickcolor:'#555',showticklabels:true,tickmode:'array',tickvals:v.xt,tickfont:{size:10},ticklabelstandoff:0,tickformat:'.1~f'},
   {range:[-12.3,284],showline:true,mirror:true,linecolor:'#555',linewidth:1.2,ticks:first?'outside':'',ticklen:3,tickcolor:'#555',showticklabels:first,tickmode:'array',tickvals:[0,100,200],tickfont:{size:10}});
 blob(r,[notSig],'#D8D4D4',true);
 dots(r,v.pale,'#D8D4D4',2.4);
 blob(r,[v.left].concat(v.right.length?[v.right]:[]),'#DF2A22');
 dots(r,v.pts,'#DF2A22',2.5);
 dots(r,v.specks,'#F3B5AE',2.2);
 [-foldCut,foldCut].forEach(c=>traces.push(Object.assign({type:'scatter',mode:'lines',x:[c,c],y:[-12.3,284],line:{color:'#111',width:1.2,dash:'4px,3px'},hoverinfo:'skip'},r)));
 box(C[0],R[2],C[1],R[3],'#DEDEDE','#555',1.2);
 note((C[0]+C[1])/2,(R[2]+R[3])/2+1,v.name,{a:'center',size:10});
 note(upNotes[i][0],upNotes[i][1],v.up,{a:'center',angle:90,size:10.2});
 note(downNotes[i][0],downNotes[i][1],v.down,{a:'center',angle:90,size:10.2});
});
const qTitle='\u2212Log<sub>10</sub> (<i>q</i>-value)';
note(6,747,qTitle,{a:'center',angle:-90,size:9.6});note(6,905,qTitle,{a:'center',angle:-90,size:9.6});
note(157,998,'Log2 (FC)',{a:'center',size:10});
// ---------- e ----------
{box(368.7,320.7,515.6,684,'#B0A7BE',null,0,'below');
 const discrete=[];spectral.forEach((c,i)=>{discrete.push([i/11,c]);discrete.push([(i+1)/11,c]);});
 const r=axes(368.7,515.6,320.7,684,{type:'category',side:'top',showticklabels:true,tickangle:90,tickmode:'array',tickvals:clusterIds,ticktext:clusterIds,tickfont:{size:9},ticklabelstandoff:1},{type:'category',autorange:'reversed',side:'right',showticklabels:true,tickmode:'array',tickvals:pathways,ticktext:pathways,tickfont:{size:10},ticklabelstandoff:2});
 const bar=Object.assign(cbar(771.3,361,495,[0,0.5,1,1.5,2,2.5,3,3.5]),{ticks:'',tickfont:{size:9.5,color:INK,family:FONT},ticktext:['0','0.5','1','1.5','2','2.5','3','3.5'],ticklabelstandoff:3});
 traces.push(Object.assign({type:'heatmap',x:clusterIds,y:pathways,z:pBand.map(row=>row.map(b=>(b+0.5)*bandWidth)),zmin:0,zmax:11*bandWidth,colorscale:discrete,xgap:0.9,ygap:0.9,colorbar:bar,hoverinfo:'skip'},r));
 note(759,428,'\u2212Log<sub>10</sub> (pvalue)',{a:'center',angle:-90,size:9.5});
}
// ---------- f ----------
const groupPx=[[315.7,350.7],[354.3,366],[368,496],[498,591.3],[593.3,617],[619.3,689.3],[691.7,796.3]];
const fScale=[[0,'#EBEBEB'],[0.333,'#EBEBEB'],[0.333,'#4B64B8'],[0.666,'#4B64B8'],[0.666,'#E5452A'],[1,'#E5452A']];
geneGroups.forEach((g,i)=>{
 const P=groupPx[i];
 box(P[0]-0.5,750.7-0.5,P[1]+0.5,883.7+0.5,'#5A5A5A',null,0,'below');
 const r=axes(P[0],P[1],750.7,883.7,{type:'category',side:'top',showticklabels:true,tickangle:-60,tickfont:{size:10.3},ticklabelstandoff:2,ticklabelshift:-5,tickmode:'array',tickvals:g.genes,ticktext:g.genes.map(n=>'<i>'+n+'</i>')},{type:'category',autorange:'reversed',side:'left',showticklabels:i===0,tickmode:'array',tickvals:rowIds,ticktext:rowIds,tickfont:{size:10.5},ticklabelstandoff:4});
 const z=rowIds.map((_,row)=>g.calls.map(col=>col[row]));
 traces.push(Object.assign({type:'heatmap',x:g.genes,y:rowIds,z,zmin:0,zmax:2,colorscale:fScale,xgap:0.9,ygap:0.9,showscale:false,hoverinfo:'skip'},r));
 box(P[0],886.7,P[1],894.3,g.colour);
});
const LEG=11.3;
note(294,911.7,'Value',{size:LEG});
box(295.3,920,307.7,934.7,'#EE3B3B','#444',1);note(313,927.7,'Up-regulated',{size:LEG});
box(407.3,920,419.3,934.7,'#4B64B8','#444',1);note(425,927.7,'Down-regulated',{size:LEG});
note(294,959,'Groups',{size:LEG});
const legendSpots=[[297,977.3],[297,994.3],[297,1011.3],[474.3,977.3],[474.3,994.3],[474.3,1011.3],[642.7,977.3]];
geneGroups.forEach((g,i)=>{const s=legendSpots[i];box(s[0],s[1]-5.5,s[0]+11,s[1]+5.5,g.colour);note(s[0]+17,s[1],g.label,{size:LEG});});

Plotly.newPlot('c',traces,layout,{displayModeBar:false,staticPlot:true});
</script></body></html>
